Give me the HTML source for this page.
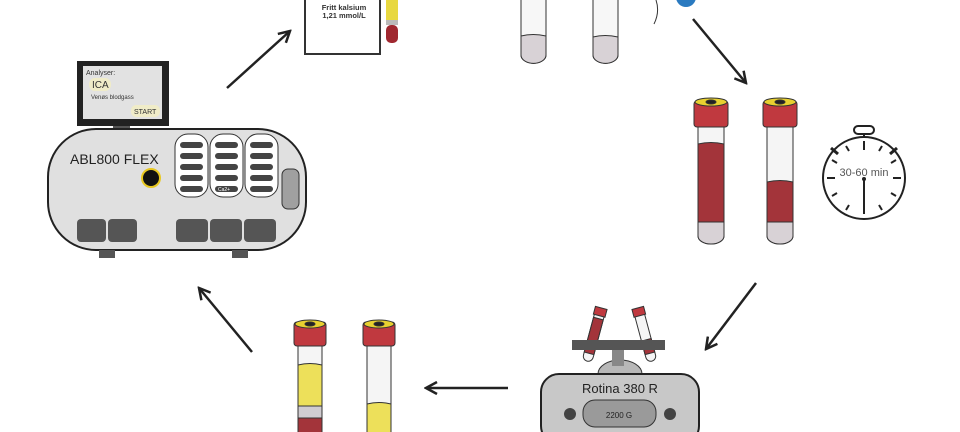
<!DOCTYPE html>
<html><head><meta charset="utf-8"><style>body{margin:0;background:#fff}svg{display:block}text{font-family:"Liberation Sans",sans-serif}</style></head><body>
<svg width="960" height="432" viewBox="0 0 960 432" xmlns="http://www.w3.org/2000/svg">
<defs>
<marker id="a" markerWidth="14" markerHeight="14" refX="12" refY="7" orient="auto" markerUnits="userSpaceOnUse"><path d="M1,1 L12,7 L1,13" fill="none" stroke="#222" stroke-width="2.5"/></marker>
</defs>
<g stroke="#222" stroke-width="2.5" fill="none" marker-end="url(#a)">
<line x1="227" y1="88" x2="290" y2="31"/>
<line x1="693" y1="19" x2="746" y2="83"/>
<line x1="756" y1="283" x2="706" y2="349"/>
<line x1="508" y1="388" x2="426" y2="388"/>
<line x1="252" y1="352" x2="199" y2="288"/>
</g>
<!-- analyzer -->
<rect x="77" y="61" width="92" height="65" fill="#222"/>
<rect x="83" y="66" width="79" height="53" fill="#e2e2e2"/>
<text x="86" y="75" font-size="7" fill="#333">Analyser:</text>
<rect x="89" y="78" width="22" height="13" rx="6" fill="#f0ecc8"/>
<text x="92" y="88" font-size="10" fill="#333">ICA</text>
<text x="91" y="99" font-size="6" fill="#333">Venøs blodgass</text>
<rect x="131" y="105" width="29" height="12" rx="5" fill="#f0ecc8"/>
<text x="134" y="114" font-size="7" fill="#333">START</text>
<rect x="113" y="126" width="17" height="8" fill="#555"/>
<rect x="48" y="129" width="258" height="121" rx="48" fill="#e0e0e0" stroke="#222" stroke-width="2"/>
<text x="70" y="164" font-size="14" fill="#222">ABL800 FLEX</text>
<circle cx="151" cy="178" r="9" fill="#111" stroke="#e8c820" stroke-width="2"/>
<g fill="#fff" stroke="#333" stroke-width="1">
<rect x="175" y="134" width="33" height="63" rx="13"/><rect x="210" y="134" width="33" height="63" rx="13"/><rect x="245" y="134" width="33" height="63" rx="13"/></g>
<g fill="#444">
<rect x="180" y="142" width="23" height="6" rx="3"/><rect x="180" y="153" width="23" height="6" rx="3"/><rect x="180" y="164" width="23" height="6" rx="3"/><rect x="180" y="175" width="23" height="6" rx="3"/><rect x="180" y="186" width="23" height="6" rx="3"/>
<rect x="215" y="142" width="23" height="6" rx="3"/><rect x="215" y="153" width="23" height="6" rx="3"/><rect x="215" y="164" width="23" height="6" rx="3"/><rect x="215" y="175" width="23" height="6" rx="3"/><rect x="215" y="186" width="23" height="6" rx="3"/>
<rect x="250" y="142" width="23" height="6" rx="3"/><rect x="250" y="153" width="23" height="6" rx="3"/><rect x="250" y="164" width="23" height="6" rx="3"/><rect x="250" y="175" width="23" height="6" rx="3"/><rect x="250" y="186" width="23" height="6" rx="3"/>
</g>
<text x="218" y="191" font-size="5" fill="#fff">Ca2+</text>
<rect x="282" y="169" width="17" height="40" rx="6" fill="#a0a0a0" stroke="#333"/>
<g fill="#555"><rect x="77" y="219" width="29" height="23" rx="4"/><rect x="108" y="219" width="29" height="23" rx="4"/><rect x="176" y="219" width="32" height="23" rx="4"/><rect x="210" y="219" width="32" height="23" rx="4"/><rect x="244" y="219" width="32" height="23" rx="4"/>
<rect x="99" y="250" width="16" height="8"/><rect x="232" y="250" width="16" height="8"/></g>
<!-- result box -->
<rect x="305" y="-3" width="75" height="57" fill="#fff" stroke="#333" stroke-width="2"/>
<text x="344" y="10" font-size="7.5" font-weight="bold" fill="#333" text-anchor="middle">Fritt kalsium</text>
<text x="344" y="18" font-size="7.5" font-weight="bold" fill="#333" text-anchor="middle">1,21 mmol/L</text>
<rect x="386" y="0" width="12" height="20" fill="#e8d840"/><rect x="386" y="20" width="12" height="5" fill="#bbb"/><rect x="386" y="25" width="12" height="18" rx="5" fill="#a02830"/>
<!-- top tubes -->
<g stroke="#333" stroke-width="1"><path d="M521,0 V55 a12,8 0 0 0 25,0 V0" fill="#f7f7f7"/><path d="M521,36 q12,-3 25,0 V55 a12,8 0 0 1 -25,0Z" fill="#d8d2d6"/>
<path d="M593,0 V55 a12,8 0 0 0 25,0 V0" fill="#f7f7f7"/><path d="M593,37 q12,-3 25,0 V55 a12,8 0 0 1 -25,0Z" fill="#d8d2d6"/>
<path d="M656,0 q4,12 -2,24" fill="none"/></g>
<circle cx="686" cy="-3" r="10" fill="#2a7ac0"/>
<!-- tubes with blood -->
<g stroke="#333" stroke-width="1">
<path d="M698,126 V236 a13,8 0 0 0 26,0 V126Z" fill="#f5f5f5"/><path d="M698,144 q13,-3 26,0 V222 H698Z" fill="#a3343a"/><path d="M698,222 h26 v14 a13,8 0 0 1 -26,0Z" fill="#d8d2d6"/>
<rect x="694" y="101" width="34" height="26" rx="3" fill="#c0393f"/><ellipse cx="711" cy="102" rx="16" ry="4" fill="#e8d030"/><ellipse cx="711" cy="102" rx="5" ry="2" fill="#222"/>
<path d="M767,126 V236 a13,8 0 0 0 26,0 V126Z" fill="#f5f5f5"/><path d="M767,182 q13,-3 26,0 V222 H767Z" fill="#a3343a"/><path d="M767,222 h26 v14 a13,8 0 0 1 -26,0Z" fill="#d8d2d6"/>
<rect x="763" y="101" width="34" height="26" rx="3" fill="#c0393f"/><ellipse cx="780" cy="102" rx="16" ry="4" fill="#e8d030"/><ellipse cx="780" cy="102" rx="5" ry="2" fill="#222"/>
</g>
<!-- timer -->
<g stroke="#222" stroke-width="2" fill="none">
<circle cx="864" cy="178" r="41"/><rect x="854" y="126" width="20" height="8" rx="4"/><line x1="864" y1="134" x2="864" y2="137"/>
<line x1="831" y1="148" x2="838" y2="154" stroke-width="3"/><line x1="897" y1="148" x2="890" y2="154" stroke-width="3"/>
<line x1="864" y1="141" x2="864" y2="150"/><line x1="864" y1="179" x2="864" y2="214"/><line x1="827" y1="178" x2="835" y2="178"/><line x1="893" y1="178" x2="901" y2="178"/>
<line x1="882" y1="146" x2="879" y2="151"/><line x1="846" y1="146" x2="849" y2="151"/><line x1="832" y1="160" x2="837" y2="163"/><line x1="896" y1="160" x2="891" y2="163"/>
<line x1="832" y1="196" x2="837" y2="193"/><line x1="896" y1="196" x2="891" y2="193"/><line x1="846" y1="210" x2="849" y2="205"/><line x1="882" y1="210" x2="879" y2="205"/>
</g>
<circle cx="864" cy="179" r="2" fill="#222"/>
<text x="864" y="176" font-size="11" fill="#555" text-anchor="middle">30-60 min</text>
<!-- centrifuge -->
<g stroke="#333" stroke-width="1">
<g transform="rotate(15 594 335)"><rect x="589" y="310" width="10" height="52" rx="5" fill="#f5f5f5"/><rect x="589" y="318" width="10" height="36" fill="#a3343a"/><rect x="588" y="307" width="12" height="8" fill="#c0393f"/></g>
<g transform="rotate(-15 645 335)"><rect x="640" y="310" width="10" height="52" rx="5" fill="#f5f5f5"/><rect x="640" y="340" width="10" height="14" fill="#a3343a"/><rect x="639" y="307" width="12" height="8" fill="#c0393f"/></g>
</g>
<path d="M598,374 a22,14 0 0 1 44,0Z" fill="#b8b8b8" stroke="#333"/>
<rect x="612" y="350" width="12" height="16" fill="#888"/>
<rect x="572" y="340" width="93" height="10" fill="#555"/>
<rect x="541" y="374" width="158" height="70" rx="18" fill="#c8c8c8" stroke="#222" stroke-width="2"/>
<text x="620" y="393" font-size="13" fill="#222" text-anchor="middle">Rotina 380 R</text>
<rect x="583" y="400" width="73" height="27" rx="12" fill="#9a9a9a" stroke="#333"/>
<text x="619" y="418" font-size="8" fill="#222" text-anchor="middle">2200 G</text>
<circle cx="570" cy="414" r="6" fill="#444"/><circle cx="670" cy="414" r="6" fill="#444"/>
<!-- separated tubes -->
<g stroke="#333" stroke-width="1">
<rect x="298" y="344" width="24" height="100" fill="#f5f5f5"/><path d="M298,365 q12,-3 24,0 V406 H298Z" fill="#ede05a"/><rect x="298" y="406" width="24" height="12" fill="#d0ccd0"/><rect x="298" y="418" width="24" height="20" fill="#a3343a"/>
<rect x="294" y="322" width="32" height="24" rx="3" fill="#c0393f"/><ellipse cx="310" cy="324" rx="15" ry="4" fill="#e8d030"/><ellipse cx="310" cy="324" rx="5" ry="2" fill="#222"/>
<rect x="367" y="344" width="24" height="100" fill="#f5f5f5"/><path d="M367,404 q12,-3 24,0 V440 H367Z" fill="#ede05a"/>
<rect x="363" y="322" width="32" height="24" rx="3" fill="#c0393f"/><ellipse cx="379" cy="324" rx="15" ry="4" fill="#e8d030"/><ellipse cx="379" cy="324" rx="5" ry="2" fill="#222"/>
</g>
</svg>
</body></html>
